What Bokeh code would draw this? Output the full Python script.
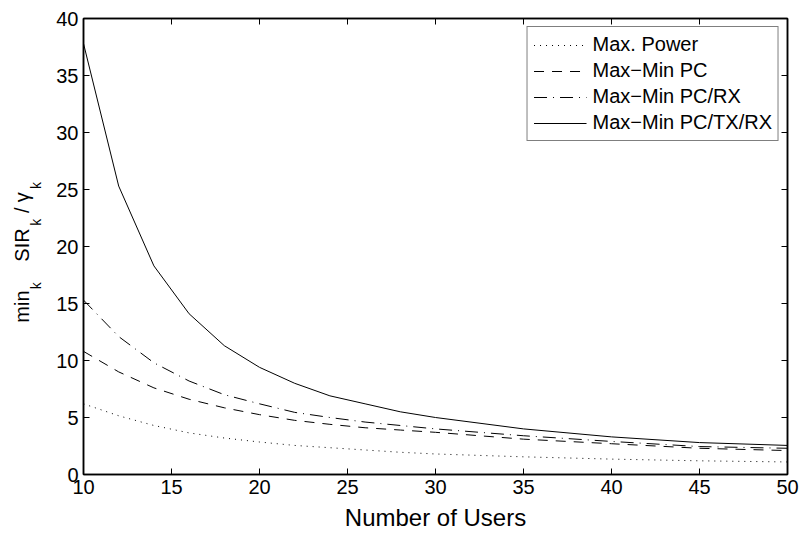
import numpy as np
from bokeh.plotting import figure
from bokeh.layouts import row
from bokeh.models import (Range1d, LinearAxis, FixedTicker, Legend, LegendItem,
                          CustomLabelingPolicy, ColumnDataSource)
from bokeh.core.properties import value
from bokeh.embed import file_html
from bokeh.resources import INLINE

# ---- data ----
users = [10, 12, 14, 16, 18, 20, 22, 24, 26, 28, 30, 35, 40, 45, 50]
max_power = [6.2, 5.15, 4.3, 3.65, 3.2, 2.85, 2.55, 2.35, 2.15, 1.95, 1.8, 1.55, 1.35, 1.2, 1.1]
maxmin_pc = [10.8, 9.0, 7.6, 6.6, 5.85, 5.25, 4.75, 4.4, 4.1, 3.9, 3.7, 3.1, 2.7, 2.3, 2.1]
maxmin_pc_rx = [15.3, 12.1, 9.8, 8.2, 7.0, 6.2, 5.45, 5.0, 4.6, 4.3, 4.0, 3.4, 2.9, 2.45, 2.3]
maxmin_pc_tx_rx = [37.8, 25.3, 18.3, 14.1, 11.3, 9.4, 8.0, 6.9, 6.2, 5.5, 5.0, 4.0, 3.3, 2.8, 2.55]

series_names = ["Max. Power", "Max\u2212Min PC", "Max\u2212Min PC/RX", "Max\u2212Min PC/TX/RX"]
x_ticks = [10, 15, 20, 25, 30, 35, 40, 45, 50]
y_ticks = [0, 5, 10, 15, 20, 25, 30, 35, 40]

FONT = "Liberation Sans"
LABEL_W = 48
W, H = 800, 533
TOP, BOTTOM = 18, 56

p = figure(width=W - LABEL_W, height=H, output_backend="svg", toolbar_location=None,
           x_range=Range1d(10, 50), y_range=Range1d(0, 40),
           min_border_left=83 - LABEL_W, min_border_right=13, min_border_top=TOP,
           min_border_bottom=BOTTOM)
p.xgrid.visible = False
p.ygrid.visible = False
p.outline_line_color = "black"
p.outline_line_width = 1.5
p.background_fill_color = "white"
p.border_fill_color = "white"

styles = [("1 5", 1.0), ("10 8", 1.0), ("13 6 1 6", 1.0), ("solid", 1.0)]
ys = [max_power, maxmin_pc, maxmin_pc_rx, maxmin_pc_tx_rx]
renderers = []
for yv, (dash, w) in zip(ys, styles):
    r = p.line(users, yv, line_color="black", line_width=w, line_dash=dash)
    renderers.append(r)

def style_axis(ax, ticks, show_labels=True):
    ax.ticker = FixedTicker(ticks=ticks)
    ax.major_tick_in = 6
    ax.major_tick_out = 0
    ax.minor_tick_line_color = None
    ax.axis_line_color = "black"
    ax.axis_line_width = 1.5
    ax.major_tick_line_color = "black"
    ax.major_tick_line_width = 1
    ax.major_label_text_font = FONT
    ax.major_label_text_font_size = "20px"
    ax.major_label_text_color = "black"
    if not show_labels:
        ax.major_label_policy = CustomLabelingPolicy(code="return []")
        ax.major_label_text_font_size = "0px"
        ax.major_label_standoff = 0

style_axis(p.xaxis[0], x_ticks)
style_axis(p.yaxis[0], y_ticks)
p.xaxis[0].major_label_standoff = 5
p.yaxis[0].major_label_standoff = 5
p.xaxis[0].axis_label = "Number of Users"
p.xaxis[0].axis_label_text_font = FONT
p.xaxis[0].axis_label_text_font_size = "24px"
p.xaxis[0].axis_label_text_font_style = "normal"
p.xaxis[0].axis_label_text_color = "black"
p.xaxis[0].axis_label_standoff = 7

top_ax = LinearAxis()
style_axis(top_ax, x_ticks, show_labels=False)
p.add_layout(top_ax, "above")
right_ax = LinearAxis()
style_axis(right_ax, y_ticks, show_labels=False)
p.add_layout(right_ax, "right")

# legend
items = [LegendItem(label=n, renderers=[r]) for n, r in zip(series_names, renderers)]
legend = Legend(items=items, location="top_right")
legend.label_text_font = FONT
legend.label_text_font_size = "20px"
legend.label_text_color = "black"
legend.glyph_width = 53
legend.glyph_height = 20
legend.label_height = 20
legend.spacing = 3
legend.padding = 6
legend.margin = 8
legend.label_standoff = 6
legend.border_line_color = "black"
legend.border_line_width = 1
legend.background_fill_color = "white"
legend.background_fill_alpha = 1
p.add_layout(legend, "center")

# ---- y axis label: a narrow figure on the left whose frame spans the same
# vertical extent as the main frame; coordinates = pixels from the page top ----
lf = figure(width=LABEL_W, height=H, output_backend="svg", toolbar_location=None,
            x_range=Range1d(0, LABEL_W), y_range=Range1d(BOTTOM, H - TOP),
            x_axis_location=None, y_axis_location=None,
            min_border_left=0, min_border_right=0,
            min_border_top=TOP, min_border_bottom=BOTTOM, outline_line_color=None)
lf.grid.visible = False
lf.background_fill_color = "white"
lf.border_fill_color = "white"

# centres of each piece (pixels from the left, pixels from the top)
main_txt = ["min", "SIR", "/", "\u03b3"]
main_cx = [21, 21, 21, 21]
main_cy = [308, 246, 211, 198]
sub_txt = ["k", "k", "k"]
sub_cx = [35, 35, 35]
sub_cy = [287, 223, 186]
main_src = ColumnDataSource(dict(x=main_cx, y=[H - s for s in main_cy], t=main_txt))
sub_src = ColumnDataSource(dict(x=sub_cx, y=[H - s for s in sub_cy], t=sub_txt))
lf.text(x="x", y="y", text="t", source=main_src, angle=np.pi / 2,
        text_font=value(FONT), text_font_size=value("20px"), text_color="black",
        text_align="center", text_baseline="middle")
lf.text(x="x", y="y", text="t", source=sub_src, angle=np.pi / 2,
        text_font=value(FONT), text_font_size=value("14px"), text_color="black",
        text_align="center", text_baseline="middle")

layout = row(lf, p)
open("out.html", "w").write(file_html(layout, INLINE))
